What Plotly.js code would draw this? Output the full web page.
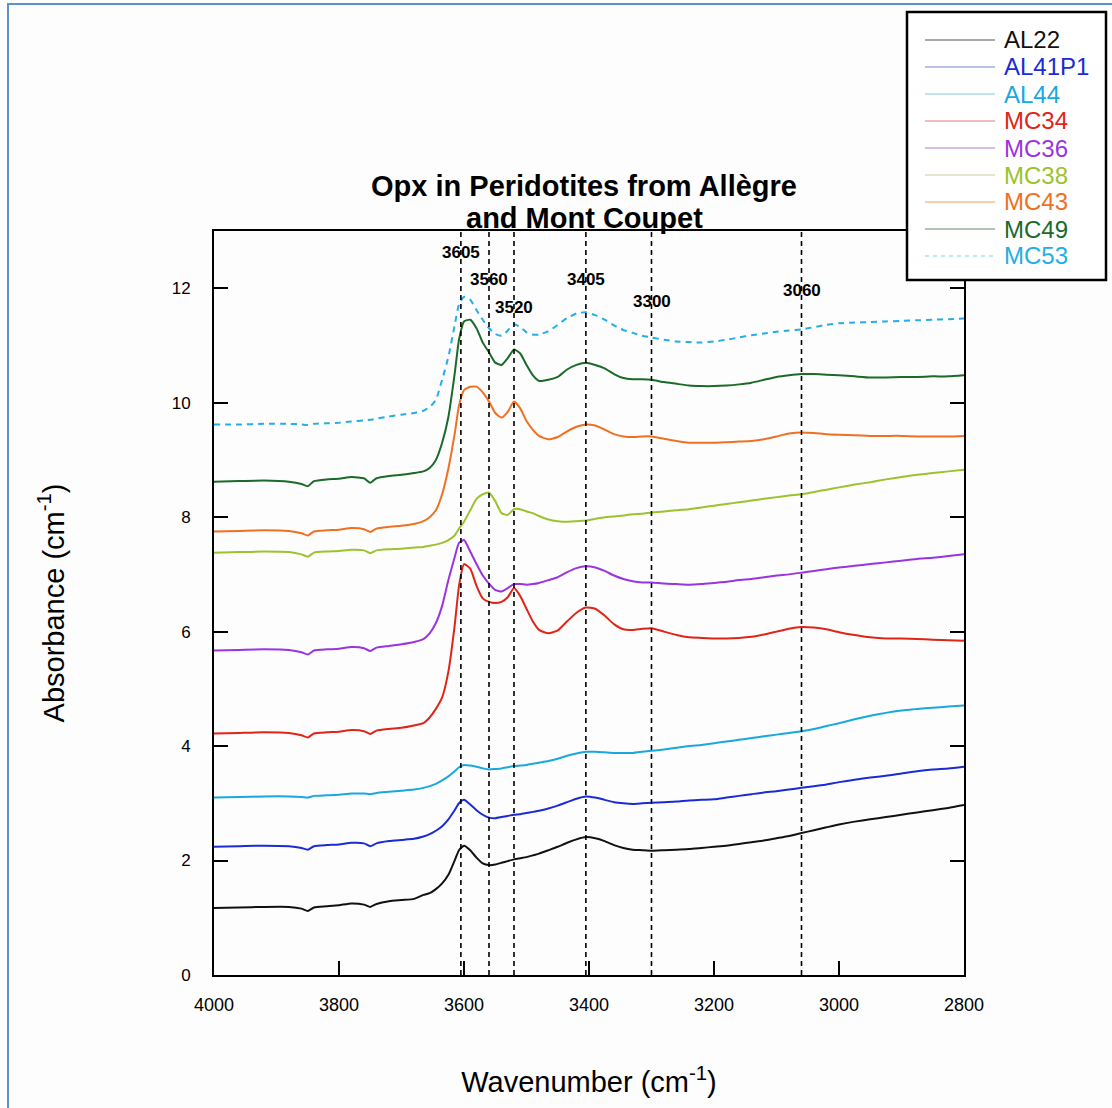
<!DOCTYPE html>
<html>
<head>
<meta charset="utf-8">
<script src="https://cdn.plot.ly/plotly-3.0.1.min.js"></script>
<style>
  html, body { margin: 0; padding: 0; background: #fdfdfd; }
  #chart { width: 1112px; height: 1108px; position: relative; }
  #frame { position: absolute; left: 7px; top: 3px; width: 1110px; height: 1110px;
           border-left: 2px solid #6090cc; border-top: 2px solid #6090cc; pointer-events: none; }
</style>
</head>
<body>
<div id="chart"></div>
<div id="frame"></div>
<script>
// Wavenumber grid (cm-1)
const wavenumber = [4000, 3960, 3920, 3880, 3860, 3850, 3840, 3820, 3800, 3780, 3760, 3750, 3740, 3720, 3700, 3680, 3665, 3655, 3645, 3635,
  3625, 3615, 3608, 3600, 3590, 3580, 3570, 3560, 3550, 3540, 3530, 3520, 3510, 3500, 3490, 3480, 3465, 3450, 3435, 3420,
  3405, 3390, 3375, 3360, 3345, 3330, 3315, 3300, 3280, 3260, 3240, 3220, 3200, 3180, 3160, 3140, 3120, 3100, 3080, 3060,
  3040, 3020, 3000, 2975, 2950, 2925, 2900, 2875, 2850, 2825, 2800];

const AL22 = [1.17, 1.18, 1.19, 1.19, 1.16, 1.12, 1.18, 1.20, 1.22, 1.25, 1.23, 1.19, 1.24, 1.29, 1.31, 1.33, 1.40, 1.43, 1.50, 1.60,
  1.75, 2.00, 2.18, 2.26, 2.18, 2.05, 1.95, 1.92, 1.93, 1.96, 1.99, 2.02, 2.04, 2.06, 2.09, 2.12, 2.18, 2.24, 2.31, 2.37,
  2.41, 2.39, 2.34, 2.27, 2.22, 2.19, 2.18, 2.17, 2.18, 2.19, 2.20, 2.22, 2.24, 2.26, 2.29, 2.32, 2.35, 2.39, 2.43, 2.48,
  2.53, 2.58, 2.63, 2.68, 2.72, 2.76, 2.80, 2.84, 2.88, 2.92, 2.97];

const AL41P1 = [2.24, 2.25, 2.26, 2.25, 2.22, 2.19, 2.25, 2.27, 2.28, 2.31, 2.30, 2.25, 2.30, 2.34, 2.36, 2.38, 2.42, 2.46, 2.52, 2.60,
  2.72, 2.88, 3.00, 3.06, 2.98, 2.88, 2.80, 2.75, 2.74, 2.76, 2.78, 2.80, 2.81, 2.83, 2.85, 2.87, 2.91, 2.96, 3.02, 3.08,
  3.12, 3.10, 3.06, 3.02, 3.00, 2.99, 3.00, 3.01, 3.02, 3.03, 3.05, 3.06, 3.07, 3.10, 3.13, 3.16, 3.19, 3.21, 3.24, 3.27,
  3.30, 3.33, 3.37, 3.41, 3.45, 3.48, 3.52, 3.56, 3.59, 3.61, 3.64];

const AL44 = [3.10, 3.11, 3.12, 3.12, 3.11, 3.10, 3.13, 3.14, 3.15, 3.17, 3.17, 3.16, 3.18, 3.20, 3.22, 3.24, 3.27, 3.30, 3.34, 3.40,
  3.47, 3.56, 3.63, 3.67, 3.66, 3.64, 3.61, 3.59, 3.60, 3.61, 3.63, 3.65, 3.66, 3.67, 3.69, 3.71, 3.74, 3.78, 3.83, 3.87,
  3.90, 3.90, 3.89, 3.88, 3.88, 3.88, 3.90, 3.92, 3.94, 3.97, 4.00, 4.02, 4.05, 4.08, 4.11, 4.14, 4.17, 4.20, 4.23, 4.26,
  4.30, 4.35, 4.40, 4.47, 4.53, 4.58, 4.62, 4.65, 4.67, 4.69, 4.71];

const MC34 = [4.22, 4.23, 4.24, 4.23, 4.19, 4.15, 4.22, 4.24, 4.25, 4.28, 4.26, 4.21, 4.27, 4.30, 4.32, 4.36, 4.40, 4.50, 4.65, 4.85,
  5.30, 6.10, 6.80, 7.18, 7.10, 6.80, 6.58, 6.52, 6.50, 6.52, 6.60, 6.76, 6.62, 6.40, 6.18, 6.03, 5.97, 6.02, 6.18, 6.33,
  6.42, 6.40, 6.28, 6.13, 6.04, 6.03, 6.05, 6.06, 6.00, 5.94, 5.90, 5.89, 5.88, 5.88, 5.89, 5.91, 5.95, 6.00, 6.05, 6.08,
  6.07, 6.04, 5.99, 5.94, 5.90, 5.88, 5.88, 5.87, 5.86, 5.85, 5.84];

const MC36 = [5.67, 5.68, 5.69, 5.68, 5.64, 5.60, 5.67, 5.69, 5.70, 5.73, 5.71, 5.66, 5.72, 5.75, 5.78, 5.82, 5.87, 5.97, 6.15, 6.45,
  6.90, 7.30, 7.55, 7.60, 7.40, 7.18, 6.98, 6.84, 6.73, 6.70, 6.76, 6.83, 6.83, 6.82, 6.83, 6.85, 6.90, 6.95, 7.04, 7.11,
  7.14, 7.12, 7.06, 6.98, 6.92, 6.88, 6.86, 6.86, 6.84, 6.83, 6.82, 6.83, 6.85, 6.87, 6.90, 6.92, 6.95, 6.98, 7.00, 7.03,
  7.06, 7.09, 7.12, 7.15, 7.18, 7.21, 7.24, 7.27, 7.29, 7.32, 7.35];

const MC38 = [7.38, 7.39, 7.40, 7.39, 7.35, 7.31, 7.38, 7.40, 7.41, 7.43, 7.42, 7.37, 7.42, 7.44, 7.45, 7.47, 7.48, 7.50, 7.52, 7.55,
  7.60, 7.68, 7.80, 7.92, 8.12, 8.32, 8.40, 8.43, 8.28, 8.07, 8.04, 8.14, 8.14, 8.10, 8.07, 8.02, 7.96, 7.93, 7.92, 7.93,
  7.94, 7.97, 8.00, 8.01, 8.03, 8.05, 8.06, 8.08, 8.10, 8.12, 8.14, 8.17, 8.20, 8.23, 8.26, 8.29, 8.32, 8.35, 8.38, 8.40,
  8.44, 8.48, 8.52, 8.57, 8.61, 8.66, 8.70, 8.74, 8.77, 8.80, 8.83];

const MC43 = [7.75, 7.76, 7.77, 7.76, 7.72, 7.68, 7.75, 7.77, 7.78, 7.81, 7.79, 7.74, 7.80, 7.83, 7.85, 7.88, 7.93, 8.00, 8.12, 8.40,
  8.85, 9.45, 9.95, 10.22, 10.28, 10.28, 10.18, 10.02, 9.82, 9.74, 9.84, 10.02, 9.90, 9.68, 9.53, 9.42, 9.36, 9.40, 9.50, 9.58,
  9.62, 9.60, 9.53, 9.45, 9.41, 9.40, 9.41, 9.41, 9.37, 9.33, 9.30, 9.30, 9.30, 9.31, 9.32, 9.33, 9.36, 9.41, 9.46, 9.48,
  9.47, 9.45, 9.44, 9.43, 9.42, 9.42, 9.42, 9.41, 9.41, 9.41, 9.42];

const MC49 = [8.62, 8.63, 8.64, 8.62, 8.58, 8.54, 8.63, 8.66, 8.67, 8.70, 8.68, 8.60, 8.68, 8.72, 8.74, 8.77, 8.80, 8.86, 9.00, 9.30,
  9.75, 10.50, 11.10, 11.42, 11.45, 11.30, 11.05, 10.88, 10.70, 10.66, 10.78, 10.93, 10.86, 10.66, 10.48, 10.38, 10.40, 10.45, 10.58, 10.66,
  10.70, 10.66, 10.60, 10.50, 10.43, 10.41, 10.41, 10.40, 10.36, 10.33, 10.30, 10.29, 10.29, 10.30, 10.32, 10.35, 10.40, 10.45, 10.48, 10.50,
  10.50, 10.49, 10.48, 10.46, 10.44, 10.44, 10.45, 10.45, 10.46, 10.46, 10.48];

const MC53 = [9.62, 9.62, 9.63, 9.63, 9.62, 9.61, 9.63, 9.64, 9.65, 9.67, 9.69, 9.70, 9.72, 9.76, 9.79, 9.82, 9.86, 9.92, 10.05, 10.40,
  10.80, 11.35, 11.72, 11.85, 11.80, 11.62, 11.45, 11.30, 11.20, 11.17, 11.26, 11.37, 11.32, 11.23, 11.19, 11.19, 11.25, 11.36, 11.48, 11.56,
  11.58, 11.53, 11.45, 11.35, 11.27, 11.22, 11.17, 11.14, 11.10, 11.07, 11.06, 11.05, 11.07, 11.10, 11.14, 11.18, 11.21, 11.24, 11.26, 11.28,
  11.32, 11.36, 11.39, 11.40, 11.41, 11.42, 11.43, 11.44, 11.45, 11.46, 11.47];

const seriesNames = ['AL22', 'AL41P1', 'AL44', 'MC34', 'MC36', 'MC38', 'MC43', 'MC49', 'MC53'];
const seriesValues = [AL22, AL41P1, AL44, MC34, MC36, MC38, MC43, MC49, MC53];
const seriesColors = ['#111111', '#1a2bd6', '#18a8e0', '#e02418', '#9a34e0', '#9cc22c', '#f07022', '#1a6a28', '#22aee6'];
const legendLineColors = ['#555555', '#6a88d0', '#7ccce2', '#e07a7a', '#ae7ad0', '#cfcaa0', '#f0a060', '#5e8c6e', '#80cdea'];
const seriesDash = ['solid', 'solid', 'solid', 'solid', 'solid', 'solid', 'solid', 'solid', '6px,5px'];

// Band positions (cm-1) and their labels
const bandPositions = [3605, 3560, 3520, 3405, 3300, 3060];
const bandLabels = ['3605', '3560', '3520', '3405', '3300', '3060'];
const bandLabelLevels = [12.62, 12.16, 11.66, 12.15, 11.76, 11.96];

const titleLines = ['Opx in Peridotites from Allègre', 'and Mont Coupet'];

const FONT = 'Arial, Liberation Sans, sans-serif';
// helpers: pixel position -> paper fraction (plot area 214..964 x 231..975)
const px = v => (v - 214) / 750;
const py = v => (975 - v) / 744;

const traces = seriesNames.map((name, i) => ({
  x: wavenumber, y: seriesValues[i], type: 'scatter', mode: 'lines', name: name,
  showlegend: false,
  line: { color: seriesColors[i], width: 2, dash: seriesDash[i], shape: 'spline', smoothing: 0.5 },
  hoverinfo: 'x+y+name'
}));

const shapes = bandPositions.map(v => ({
  type: 'line', xref: 'x', yref: 'paper', x0: v, x1: v, y0: 0, y1: 1,
  line: { color: '#000000', width: 1.6, dash: '5px,4px' }, layer: 'above'
}));

// legend frame and samples
shapes.push({
  type: 'rect', xref: 'paper', yref: 'paper',
  x0: px(907), x1: px(1106), y0: py(280), y1: py(12),
  line: { color: '#000', width: 2.5 }, fillcolor: '#ffffff', layer: 'above'
});
const annotations = [];
seriesNames.forEach((name, i) => {
  const yc = 40 + 27 * i;
  shapes.push({
    type: 'line', xref: 'paper', yref: 'paper', x0: px(925), x1: px(995), y0: py(yc), y1: py(yc),
    line: { color: legendLineColors[i], width: 1, dash: seriesDash[i] === 'solid' ? 'solid' : '4px,4px' },
    layer: 'above'
  });
  annotations.push({
    xref: 'paper', yref: 'paper', x: px(1002), y: py(yc), xanchor: 'left', yanchor: 'middle',
    text: name, showarrow: false, font: { family: FONT, size: 24, color: seriesColors[i] }
  });
});

bandPositions.forEach((v, i) => annotations.push({
  x: v, y: bandLabelLevels[i], xref: 'x', yref: 'y', text: '<b>' + bandLabels[i] + '</b>',
  showarrow: false, font: { family: FONT, size: 17, color: '#000' },
  xanchor: 'center', yanchor: 'middle'
}));
titleLines.forEach((t, i) => annotations.push({
  xref: 'paper', yref: 'paper', x: px(584), y: py(186 + 32 * i),
  xanchor: 'center', yanchor: 'middle', showarrow: false,
  text: '<b>' + t + '</b>',
  font: { family: FONT, size: 29, color: '#000' }
}));

const layout = {
  width: 1112, height: 1108,
  margin: { l: 214, r: 148, t: 231, b: 133 },
  paper_bgcolor: '#fdfdfd', plot_bgcolor: '#fdfdfd',
  font: { family: FONT, color: '#000' },
  showlegend: false,
  xaxis: {
    range: [4000, 2800], dtick: 200, tick0: 2800,
    ticks: 'inside', ticklen: 14, tickwidth: 2, tickcolor: '#000',
    showline: true, linewidth: 2, linecolor: '#000', mirror: true,
    showgrid: false, zeroline: false,
    tickfont: { size: 18, color: '#000' }, ticklabelstandoff: 12,
    title: { text: 'Wavenumber (cm<sup>-1</sup>)', font: { size: 29, color: '#000' }, standoff: 58 }
  },
  yaxis: {
    range: [0, 13], dtick: 2, tick0: 0,
    ticks: 'inside', ticklen: 14, tickwidth: 2, tickcolor: '#000',
    showline: true, linewidth: 2, linecolor: '#000', mirror: 'ticks',
    showgrid: false, zeroline: false,
    tickfont: { size: 17, color: '#000' }, ticklabelstandoff: 18,
    title: { text: 'Absorbance (cm<sup>-1</sup>)', font: { size: 29, color: '#000' }, standoff: 99 }
  },
  shapes: shapes,
  annotations: annotations
};

Plotly.newPlot('chart', traces, layout, { displayModeBar: false, staticPlot: true });
</script>
</body>
</html>
